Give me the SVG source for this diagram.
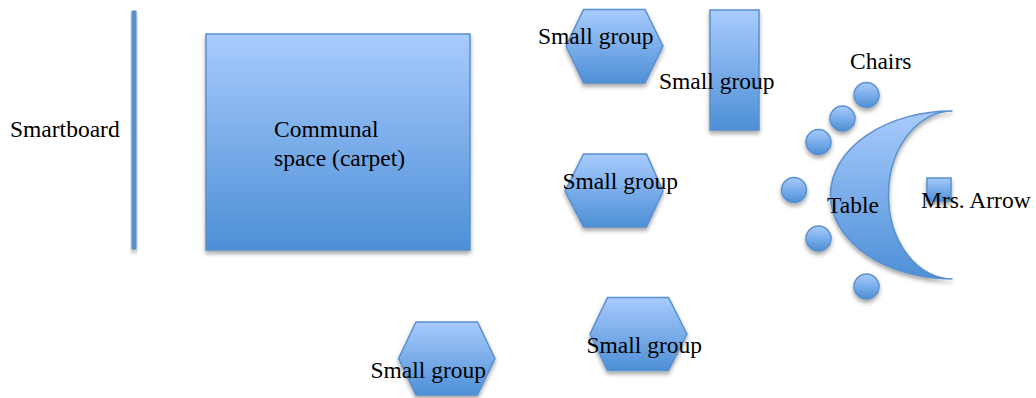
<svg xmlns="http://www.w3.org/2000/svg" width="1036" height="398" viewBox="0 0 1036 398">
<defs>
<linearGradient id="g" x1="0" y1="0" x2="0" y2="1">
<stop offset="0" stop-color="#a8cbfd"/>
<stop offset="1" stop-color="#4d8fd6"/>
</linearGradient>
<filter id="sh" x="-20%" y="-20%" width="140%" height="150%">
<feDropShadow dx="0" dy="3" stdDeviation="2" flood-color="#000" flood-opacity="0.35"/>
</filter>
<style>
.s{fill:url(#g);stroke:#5a8fcf;stroke-width:1.5;filter:url(#sh)}
.b{fill:#5a8fcf;filter:url(#sh)}
text{font-family:"Liberation Serif","Times New Roman",serif;font-size:23.5px;fill:#000}
</style>
</defs>
<g id="smartboard">
<rect class="b" x="131.5" y="10.5" width="5" height="239"/>
<text x="10" y="137">Smartboard</text>
</g>
<g id="communal">
<rect class="s" x="206" y="34" width="264" height="216"/>
<text x="274" y="137">Communal</text>
<text x="274" y="166">space (carpet)</text>
</g>
<g id="group1">
<polygon class="s" points="566,46 583.5,9.5 645,9.5 663,46 645,83 583.5,83"/>
<text x="538" y="43.5">Small group</text>
</g>
<g id="group2">
<rect class="s" x="710" y="10" width="49" height="120"/>
<text x="659" y="89">Small group</text>
</g>
<g id="group3">
<polygon class="s" points="565,191 583.5,154 646.5,154 663,191 646.5,227 583.5,227"/>
<text x="562.5" y="188.5">Small group</text>
</g>
<g id="group4">
<polygon class="s" points="590,334 607.5,297.5 668.5,297.5 687,334 668.5,370.5 607.5,370.5"/>
<text x="586.5" y="353">Small group</text>
</g>
<g id="group5">
<polygon class="s" points="398.5,358.5 416,322 477.5,322 495,358.5 477.5,395 416,395"/>
<text x="370.5" y="378">Small group</text>
</g>
<g id="table">
<path class="s" d="M952.5,111 A122,84 0 0 0 952.5,279 A64,84 0 0 1 952.5,111 Z"/>
<text x="827" y="213">Table</text>
</g>
<g id="chairs">
<circle class="s" cx="866.5" cy="95" r="12.5"/>
<circle class="s" cx="842.5" cy="118.5" r="12.5"/>
<circle class="s" cx="818.5" cy="142" r="12.5"/>
<circle class="s" cx="794" cy="190" r="12.5"/>
<circle class="s" cx="818.5" cy="238.5" r="12.5"/>
<circle class="s" cx="866.5" cy="286.5" r="12.5"/>
<text x="850" y="68.5">Chairs</text>
</g>
<g id="teacher">
<rect class="s" x="927" y="178" width="24" height="23"/>
<text x="921" y="208">Mrs. Arrow</text>
</g>
</svg>
